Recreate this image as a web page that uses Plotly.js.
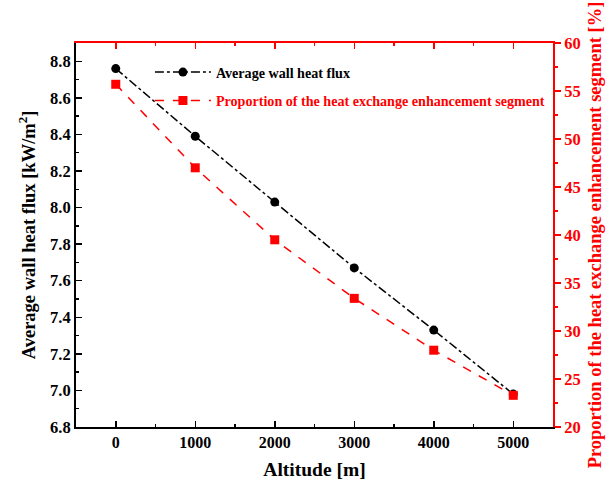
<!DOCTYPE html>
<html>
<head>
<meta charset="utf-8">
<script src="https://cdn.plot.ly/plotly-3.0.1.min.js"></script>
<style>html,body{margin:0;padding:0;background:#fff;}#chart{width:611px;height:487px;}</style>
</head>
<body>
<div id="chart"></div>
<script>
const altitude = [0, 1000, 2000, 3000, 4000, 5000];
const heatFlux = [8.76, 8.39, 8.03, 7.67, 7.33, 6.98];
const proportion = [55.7, 47.0, 39.5, 33.4, 28.0, 23.3];
const xTicks = [0, 1000, 2000, 3000, 4000, 5000];
const leftTicks = [6.8, 7.0, 7.2, 7.4, 7.6, 7.8, 8.0, 8.2, 8.4, 8.6, 8.8];
const rightTicks = [20, 25, 30, 35, 40, 45, 50, 55, 60];

const FONT = 'Liberation Serif, Times New Roman, serif';
const RED = '#ff0000';

const traces = [
  {
    x: altitude, y: heatFlux, name: '<b>Average wall heat flux</b>',
    type: 'scatter', mode: 'lines+markers', xaxis: 'x', yaxis: 'y', legendgroup: 'a',
    line: {color: '#000', width: 1.5, dash: 'dashdot'},
    marker: {symbol: 'circle', size: 9, color: '#000'}
  },
  {
    x: altitude, y: proportion, name: '<span style="color:#ff0000"><b>Proportion of the heat exchange enhancement segment</b></span>',
    type: 'scatter', mode: 'lines+markers', xaxis: 'x', yaxis: 'y2', legendgroup: 'b',
    line: {color: RED, width: 1.5, dash: 'dash'},
    marker: {symbol: 'square', size: 9, color: RED}
  },
  {
    x: altitude, y: heatFlux, xaxis: 'x2', yaxis: 'y', showlegend: false,
    mode: 'markers', marker: {opacity: 0}, hoverinfo: 'skip'
  }
];

const layout = {
  width: 611, height: 487,
  margin: {l: 76, r: 58, t: 43, b: 60},
  paper_bgcolor: '#fff', plot_bgcolor: '#fff',
  font: {family: FONT, size: 16, color: '#000'},
  showlegend: true,
  legend: {
    x: 0.155, y: 0.965, xanchor: 'left', yanchor: 'top',
    bgcolor: 'rgba(0,0,0,0)', borderwidth: 0,
    font: {family: FONT, size: 14.1, color: '#000'},
    itemwidth: 56, traceorder: 'grouped', tracegroupgap: 7
  },
  xaxis: {
    range: [-500, 5500], tickvals: xTicks, ticktext: xTicks.map(v => '<b>' + v + '</b>'),
    showgrid: false, zeroline: false,
    showline: true, linecolor: '#000', linewidth: 2,
    ticks: 'inside', ticklen: 6, tickwidth: 1.5, tickcolor: '#000',
    minor: {ticks: 'inside', ticklen: 3, tickwidth: 1.5, tickcolor: '#000', dtick: 500, tick0: -500, showgrid: false},
    tickfont: {family: FONT, size: 16, color: '#000'},
    title: {text: '<b>Altitude [m]</b>', font: {family: FONT, size: 19.5, color: '#000'}, standoff: 12},
    anchor: 'y'
  },
  xaxis2: {
    range: [-500, 5500], overlaying: 'x', side: 'top', anchor: 'y',
    tickvals: xTicks, showticklabels: false,
    showgrid: false, zeroline: false,
    showline: true, linecolor: RED, linewidth: 2,
    ticks: 'inside', ticklen: 6, tickwidth: 1.5, tickcolor: RED,
    minor: {ticks: 'inside', ticklen: 3, tickwidth: 1.5, tickcolor: RED, dtick: 500, tick0: -500, showgrid: false}
  },
  yaxis: {
    range: [6.8, 8.9], tickvals: leftTicks, ticktext: leftTicks.map(v => '<b>' + v.toFixed(1) + '</b>'),
    showgrid: false, zeroline: false,
    showline: true, linecolor: '#000', linewidth: 2,
    ticks: 'inside', ticklen: 6, tickwidth: 1.5, tickcolor: '#000',
    minor: {ticks: 'inside', ticklen: 3, tickwidth: 1.5, tickcolor: '#000', dtick: 0.1, tick0: 6.8, showgrid: false},
    tickfont: {family: FONT, size: 16.5, color: '#000'},
    title: {text: '<b>Average wall heat flux [kW/m<sup>2</sup>]</b>', font: {family: FONT, size: 18.5, color: '#000'}, standoff: 10},
    anchor: 'x'
  },
  yaxis2: {
    range: [20, 60], overlaying: 'y', side: 'right', anchor: 'x',
    tickvals: rightTicks, ticktext: rightTicks.map(v => '<b>' + v + '</b>'),
    showgrid: false, zeroline: false,
    showline: true, linecolor: RED, linewidth: 2,
    ticks: 'outside', ticklen: 6, tickwidth: 1.5, tickcolor: RED,
    minor: {ticks: 'outside', ticklen: 3, tickwidth: 1.5, tickcolor: RED, dtick: 2.5, tick0: 20, showgrid: false},
    tickfont: {family: FONT, size: 16.5, color: RED},
    title: {text: '<b>Proportion of the heat exchange enhancement segment [%]</b>', font: {family: FONT, size: 18.5, color: RED}, standoff: 8}
  }
};

Plotly.newPlot('chart', traces, layout, {displayModeBar: false, staticPlot: true});
</script>
</body>
</html>
